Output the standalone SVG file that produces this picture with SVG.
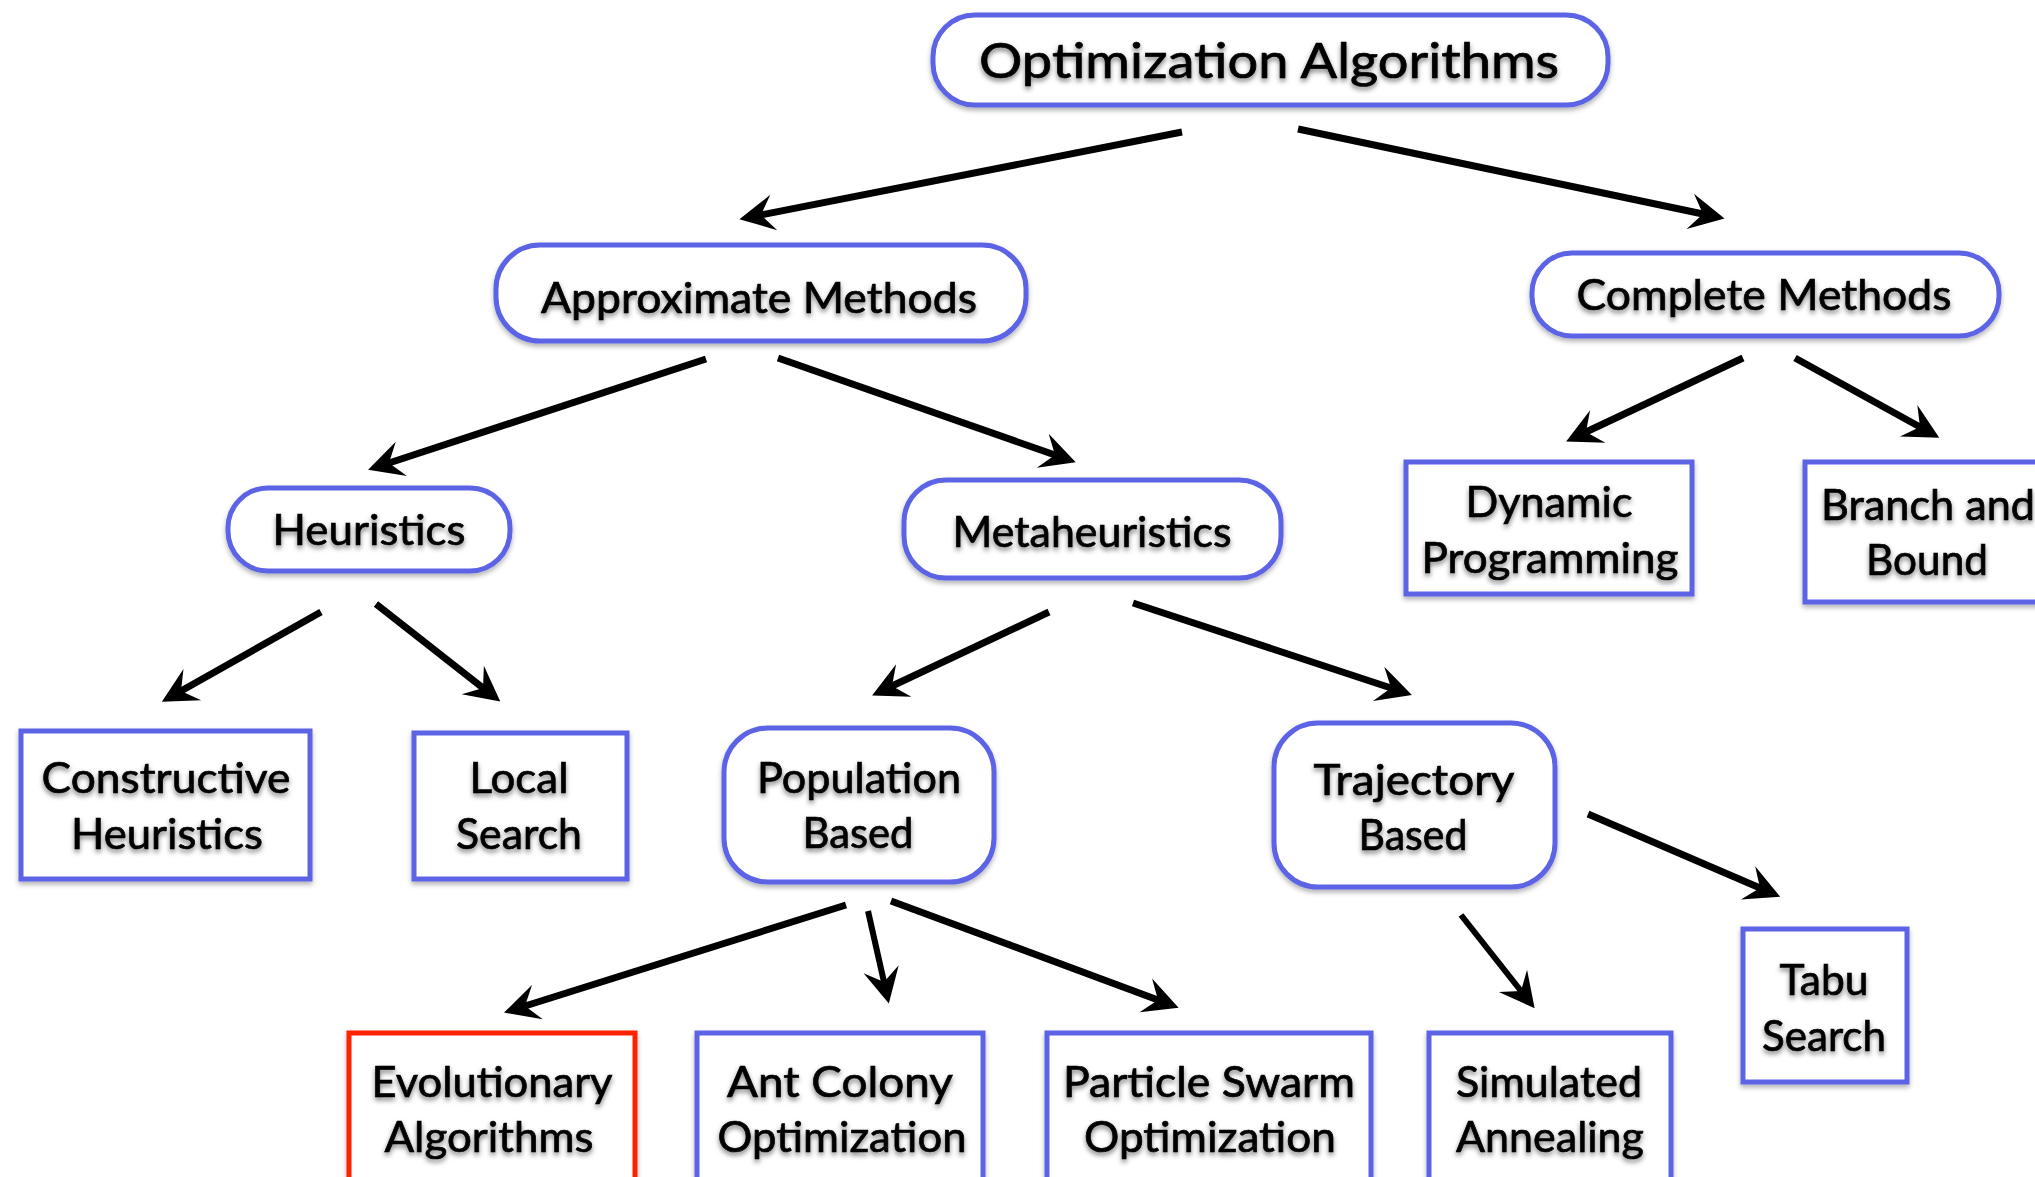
<svg xmlns="http://www.w3.org/2000/svg" width="2035" height="1177" viewBox="0 0 2035 1177">
<defs>
  <filter id="ts" x="-10%" y="-30%" width="120%" height="170%">
    <feDropShadow dx="0" dy="3" stdDeviation="2.5" flood-color="#000" flood-opacity="0.5"/>
  </filter>
  <filter id="bs" x="-10%" y="-10%" width="120%" height="130%">
    <feDropShadow dx="0" dy="3" stdDeviation="2.5" flood-color="#000" flood-opacity="0.3"/>
  </filter>
  <marker id="ah" markerUnits="userSpaceOnUse" viewBox="-20 -20 50 40" refX="0" refY="0" markerWidth="50" markerHeight="40" orient="auto" overflow="visible">
    <path d="M22,0 L-13,-18 L0,0 L-13,18 Z" fill="#000"/>
  </marker>
  <style>
    .nb { fill: #fff; stroke: #5c64e5; stroke-width: 5; filter: url(#bs); }
    .red { stroke: #ff2200; }
    .t { font-family: Lato, "Noto Sans", "Liberation Sans", sans-serif; font-size: 43px; fill: #000; stroke: #000; stroke-width: 0.7; text-anchor: middle; filter: url(#ts); }
    .big { font-size: 49px; }
    .c { stroke: #000; stroke-width: 7; fill: none; marker-end: url(#ah); }
  </style>
</defs>
<rect width="2035" height="1177" fill="#fff"/>

<g id="connectors">
  <line class="c" x1="1182" y1="132" x2="761" y2="215"/>
  <line class="c" x1="1298" y1="129" x2="1703" y2="214"/>
  <line class="c" x1="706" y1="359" x2="389" y2="463"/>
  <line class="c" x1="778" y1="358" x2="1055" y2="455"/>
  <line class="c" x1="1743" y1="358" x2="1586" y2="432"/>
  <line class="c" x1="1795" y1="358" x2="1920" y2="427"/>
  <line class="c" x1="321" y1="612" x2="181" y2="691"/>
  <line class="c" x1="376" y1="604" x2="483" y2="688"/>
  <line class="c" x1="1049" y1="612" x2="892" y2="686"/>
  <line class="c" x1="1133" y1="603" x2="1391" y2="688"/>
  <line class="c" x1="846" y1="905" x2="525" y2="1006"/>
  <line class="c" x1="868" y1="911" x2="884" y2="982" style="stroke-width:6"/>
  <line class="c" x1="891" y1="901" x2="1158" y2="1000"/>
  <line class="c" x1="1461" y1="915" x2="1521" y2="991" style="stroke-width:6"/>
  <line class="c" x1="1588" y1="814" x2="1760" y2="888"/>
</g>

<g id="optimization-algorithms">
  <rect class="nb" x="933" y="15" width="675" height="90" rx="42"/>
  <text class="t big" x="1269" y="78" textLength="580" lengthAdjust="spacingAndGlyphs">Optimization Algorithms</text>
</g>
<g id="approximate-methods">
  <rect class="nb" x="496" y="245" width="530" height="96" rx="44"/>
  <text class="t" x="759" y="313" textLength="436" lengthAdjust="spacingAndGlyphs">Approximate Methods</text>
</g>
<g id="complete-methods">
  <rect class="nb" x="1532" y="253" width="467" height="83" rx="40"/>
  <text class="t" x="1764" y="310" textLength="375" lengthAdjust="spacingAndGlyphs">Complete Methods</text>
</g>
<g id="heuristics">
  <rect class="nb" x="228" y="488" width="282" height="83" rx="40"/>
  <text class="t" x="369" y="545" textLength="193" lengthAdjust="spacingAndGlyphs">Heuristics</text>
</g>
<g id="metaheuristics">
  <rect class="nb" x="904" y="480" width="377" height="98" rx="42"/>
  <text class="t" x="1092" y="547" textLength="279" lengthAdjust="spacingAndGlyphs">Metaheuristics</text>
</g>
<g id="dynamic-programming">
  <rect class="nb" x="1406" y="462" width="286" height="132"/>
  <text class="t" x="1549" y="517" textLength="167" lengthAdjust="spacingAndGlyphs">Dynamic</text>
  <text class="t" x="1550" y="573" textLength="257" lengthAdjust="spacingAndGlyphs">Programming</text>
</g>
<g id="branch-and-bound">
  <rect class="nb" x="1805" y="462" width="244" height="140"/>
  <text class="t" x="1928" y="520" textLength="214" lengthAdjust="spacingAndGlyphs">Branch and</text>
  <text class="t" x="1927" y="575" textLength="122" lengthAdjust="spacingAndGlyphs">Bound</text>
</g>
<g id="constructive-heuristics">
  <rect class="nb" x="21" y="731" width="289" height="148"/>
  <text class="t" x="166" y="793" textLength="249" lengthAdjust="spacingAndGlyphs">Constructive</text>
  <text class="t" x="167" y="849" textLength="192" lengthAdjust="spacingAndGlyphs">Heuristics</text>
</g>
<g id="local-search">
  <rect class="nb" x="414" y="733" width="213" height="146"/>
  <text class="t" x="519" y="793" textLength="99" lengthAdjust="spacingAndGlyphs">Local</text>
  <text class="t" x="519" y="849" textLength="126" lengthAdjust="spacingAndGlyphs">Search</text>
</g>
<g id="population-based">
  <rect class="nb" x="724" y="728" width="270" height="154" rx="44"/>
  <text class="t" x="859" y="793" textLength="204" lengthAdjust="spacingAndGlyphs">Population</text>
  <text class="t" x="858" y="848" textLength="111" lengthAdjust="spacingAndGlyphs">Based</text>
</g>
<g id="trajectory-based">
  <rect class="nb" x="1274" y="723" width="281" height="164" rx="44"/>
  <text class="t" x="1414" y="795" textLength="201" lengthAdjust="spacingAndGlyphs">Trajectory</text>
  <text class="t" x="1413" y="850" textLength="109" lengthAdjust="spacingAndGlyphs">Based</text>
</g>
<g id="tabu-search">
  <rect class="nb" x="1743" y="929" width="164" height="153"/>
  <text class="t" x="1824" y="995" textLength="89" lengthAdjust="spacingAndGlyphs">Tabu</text>
  <text class="t" x="1824" y="1051" textLength="124" lengthAdjust="spacingAndGlyphs">Search</text>
</g>
<g id="evolutionary-algorithms">
  <rect class="nb red" x="349" y="1033" width="286" height="160"/>
  <text class="t" x="492" y="1097" textLength="241" lengthAdjust="spacingAndGlyphs">Evolutionary</text>
  <text class="t" x="489" y="1152" textLength="209" lengthAdjust="spacingAndGlyphs">Algorithms</text>
</g>
<g id="ant-colony-optimization">
  <rect class="nb" x="697" y="1033" width="286" height="160"/>
  <text class="t" x="840" y="1097" textLength="226" lengthAdjust="spacingAndGlyphs">Ant Colony</text>
  <text class="t" x="842" y="1152" textLength="249" lengthAdjust="spacingAndGlyphs">Optimization</text>
</g>
<g id="particle-swarm-optimization">
  <rect class="nb" x="1047" y="1033" width="324" height="160"/>
  <text class="t" x="1209" y="1097" textLength="292" lengthAdjust="spacingAndGlyphs">Particle Swarm</text>
  <text class="t" x="1210" y="1152" textLength="252" lengthAdjust="spacingAndGlyphs">Optimization</text>
</g>
<g id="simulated-annealing">
  <rect class="nb" x="1429" y="1033" width="242" height="160"/>
  <text class="t" x="1549" y="1097" textLength="186" lengthAdjust="spacingAndGlyphs">Simulated</text>
  <text class="t" x="1550" y="1152" textLength="188" lengthAdjust="spacingAndGlyphs">Annealing</text>
</g>
</svg>
